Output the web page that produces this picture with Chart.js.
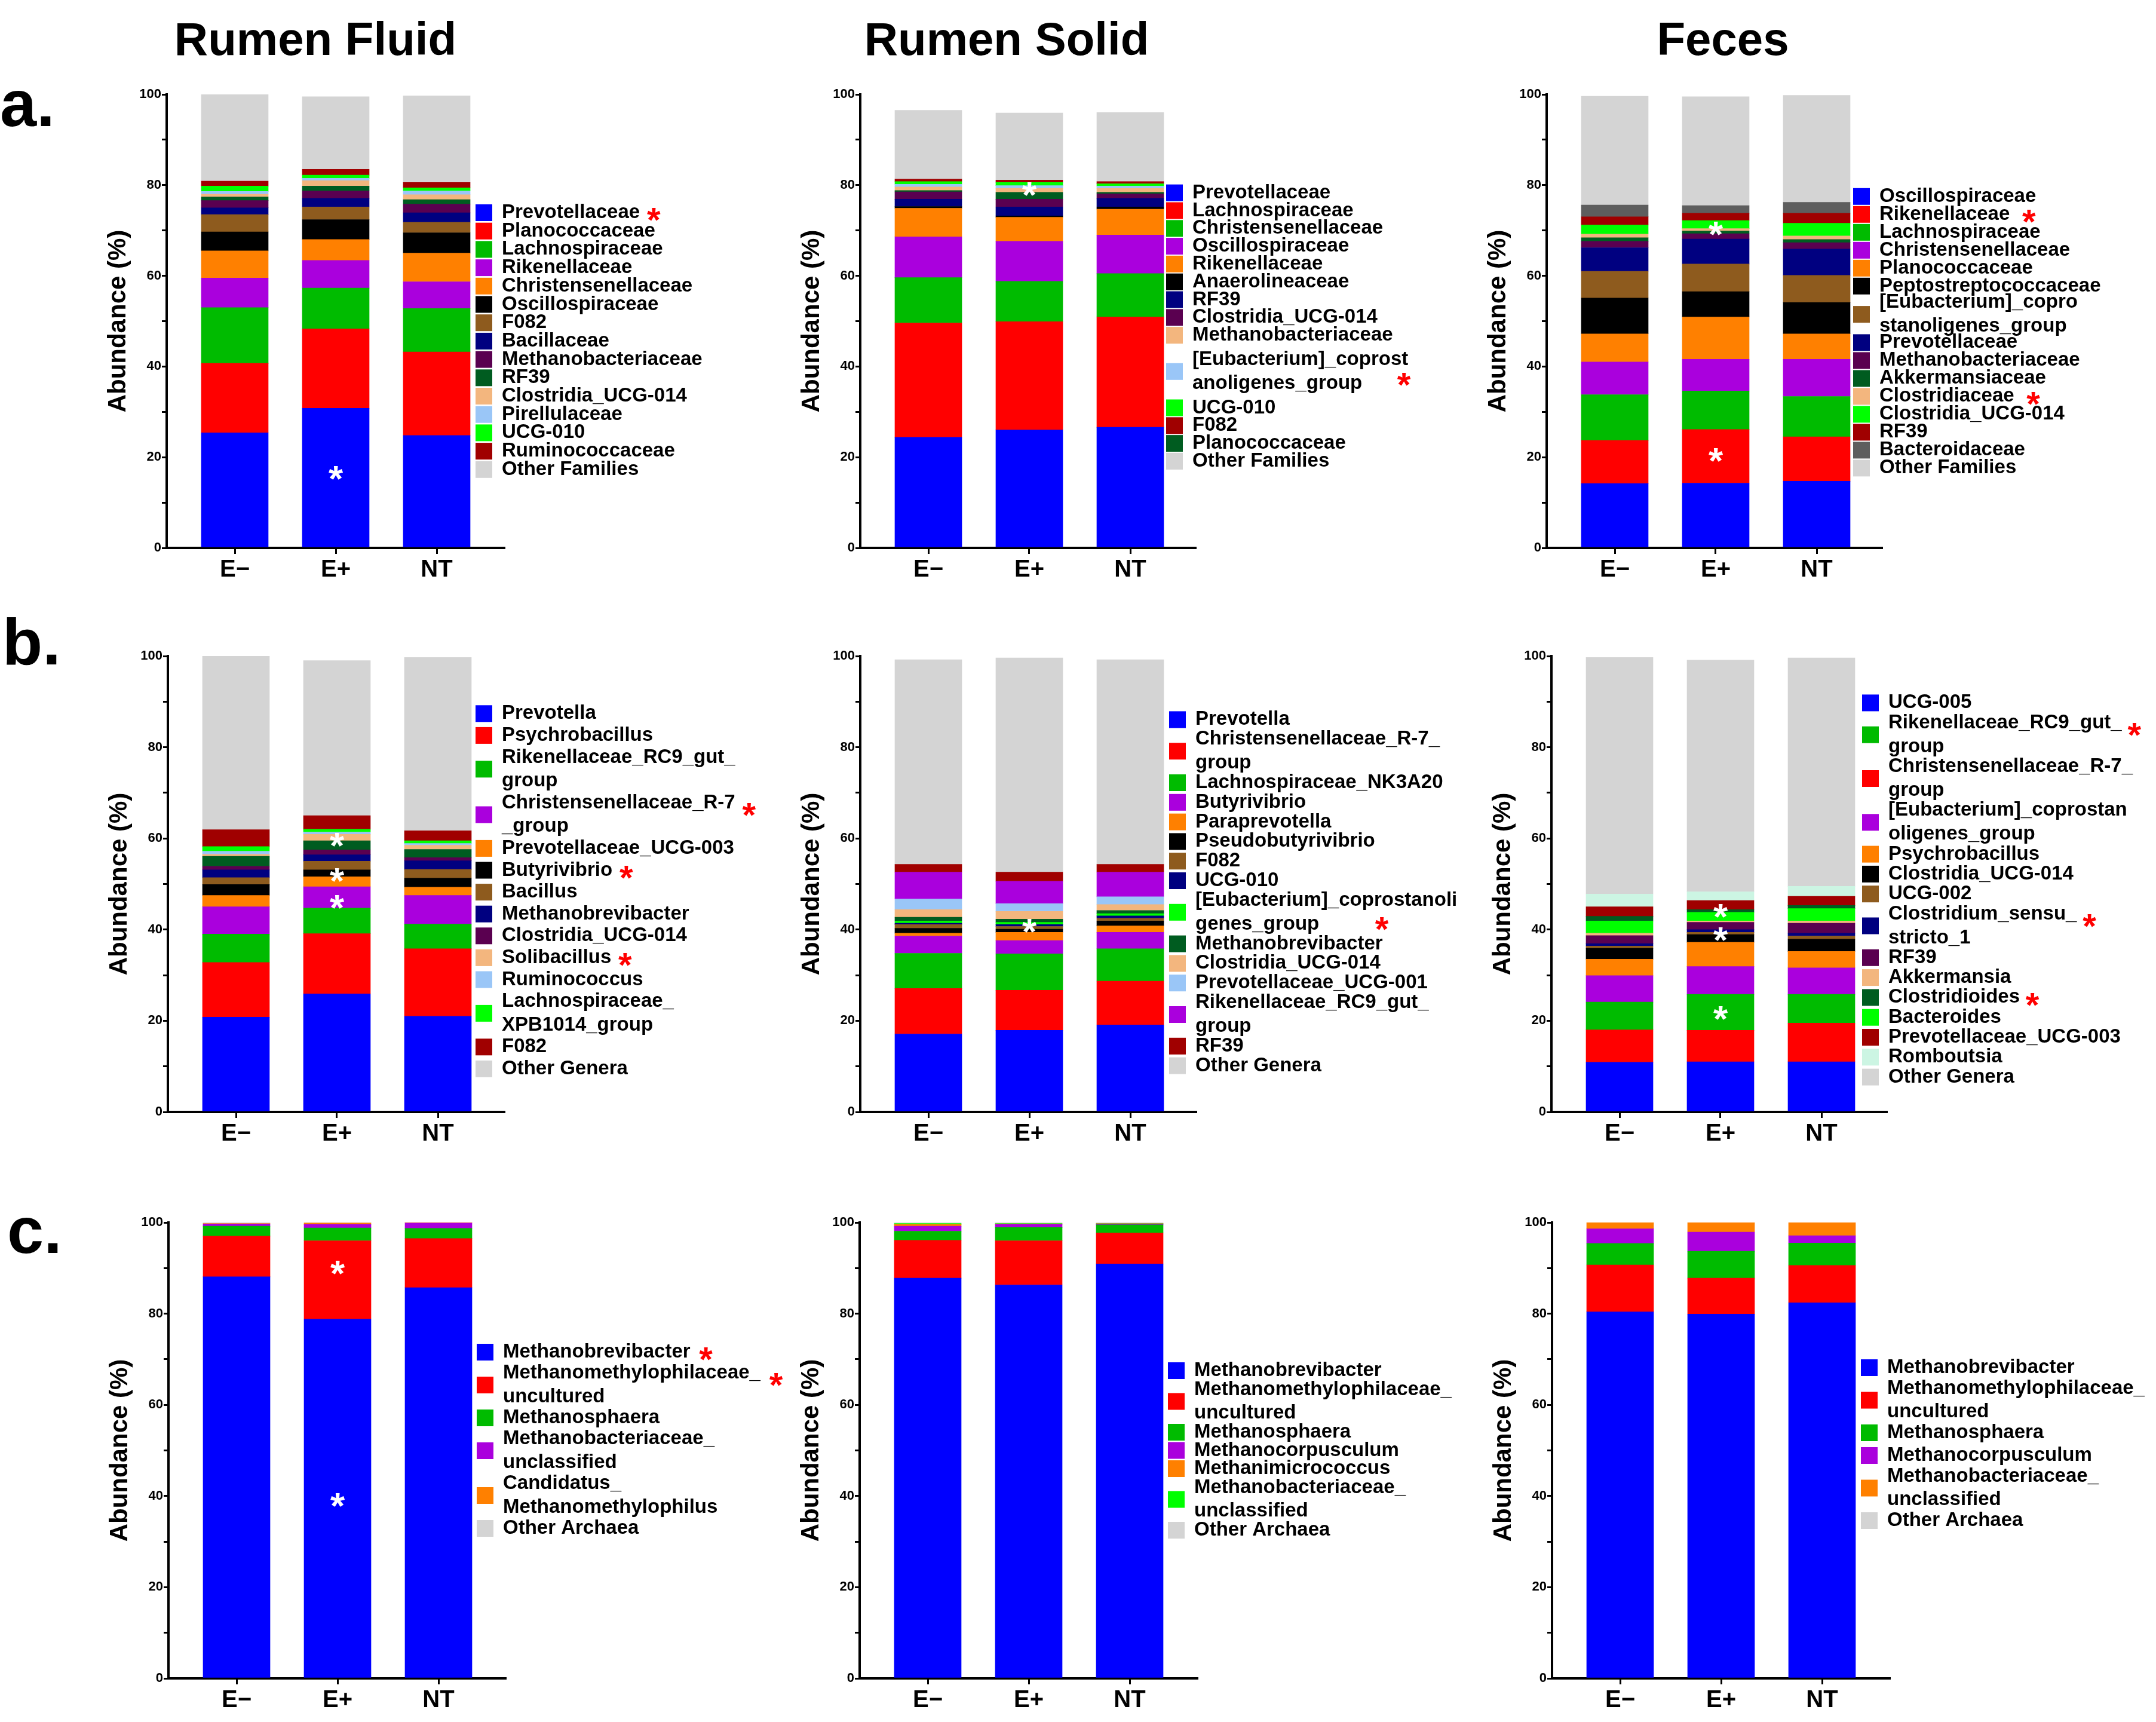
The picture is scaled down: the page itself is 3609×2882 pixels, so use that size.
<!DOCTYPE html>
<html lang="en">
<head>
  <meta charset="utf-8">
  <title>Relative abundance - Rumen Fluid, Rumen Solid, Feces</title>
  <script src="https://cdn.jsdelivr.net/npm/chart.js@4.4.1/dist/chart.umd.min.js"></script>
  <style>
    body { margin: 0; background: #fff; }
    #fig {
      position: relative; width: 3609px; height: 2882px; overflow: hidden;
      background: #fff; color: #000;
      font-family: 'Liberation Sans', Arial, sans-serif; font-weight: bold;
    }
    .ttl { position: absolute; font-size: 78px; line-height: 78px; white-space: nowrap; transform: translateX(-50%); }
    .let { position: absolute; font-size: 110px; line-height: 110px; }
    canvas { position: absolute; }
  </style>
</head>
<body>
<div id="fig">
  <div class="ttl" style="left:528px;top:26px">Rumen Fluid</div>
  <div class="ttl" style="left:1685px;top:26px">Rumen Solid</div>
  <div class="ttl" style="left:2884px;top:26px">Feces</div>
  <div class="let" style="left:0px;top:118px">a.</div>
  <div class="let" style="left:4px;top:1019px">b.</div>
  <div class="let" style="left:12px;top:2004px">c.</div>
</div>

<script>
  // ---- data ----
  var groups = ['E\u2212', 'E+', 'NT'];

  // a. Rumen Fluid, families
  var fluidFamNames = ['Prevotellaceae', 'Planococcaceae', 'Lachnospiraceae', 'Rikenellaceae', 'Christensenellaceae',
    'Oscillospiraceae', 'F082', 'Bacillaceae', 'Methanobacteriaceae', 'RF39', 'Clostridia_UCG-014',
    'Pirellulaceae', 'UCG-010', 'Ruminococcaceae', 'Other Families'];
  var fluidFamEneg = [25.4, 15.3, 12.3, 6.5, 6.0, 4.2, 3.8, 1.5, 1.6, 0.8, 0.6, 0.6, 1.2, 1.1, 19.1];
  var fluidFamEpos = [30.8, 17.5, 9.0, 6.1, 4.6, 4.4, 2.8, 1.9, 1.6, 1.1, 1.2, 0.5, 0.7, 1.3, 16.0];
  var fluidFamNT = [24.8, 18.4, 9.6, 5.9, 6.3, 4.5, 2.3, 2.1, 1.9, 1.0, 1.1, 0.8, 0.7, 1.2, 19.1];
  var fluidFamStars = ['Prevotellaceae'];
  var fluidFamMarks = [[1, 17.1]];

  // a. Rumen Solid, families (stack order; Planococcaceae listed last in the legend)
  var solidFamNames = ['Prevotellaceae', 'Lachnospiraceae', 'Christensenellaceae', 'Oscillospiraceae', 'Rikenellaceae',
    'Anaerolineaceae', 'RF39', 'Clostridia_UCG-014', 'Planococcaceae', 'Methanobacteriaceae',
    '[Eubacterium]_coprost\nanoligenes_group', 'UCG-010', 'F082', 'Other Families'];
  var solidFamLegend = [0, 1, 2, 3, 4, 5, 6, 7, 9, 10, 11, 12, 8, 13];
  var solidFamEneg = [24.4, 25.2, 10.0, 9.0, 6.3, 0.4, 1.6, 1.6, 0.3, 0.8, 0.6, 0.6, 0.5, 15.2];
  var solidFamEpos = [26.0, 23.9, 8.9, 8.8, 5.3, 0.3, 2.0, 1.7, 1.5, 0.9, 0.6, 0.7, 0.5, 14.8];
  var solidFamNT = [26.6, 24.3, 9.6, 8.5, 5.7, 0.5, 1.9, 1.0, 0.3, 0.9, 0.5, 0.5, 0.5, 15.2];
  var solidFamStars = ['[Eubacterium]_coprost\nanoligenes_group'];
  var solidFamMarks = [[1, 79.7]];

  // a. Feces, families
  var fecesFamNames = ['Oscillospiraceae', 'Rikenellaceae', 'Lachnospiraceae', 'Christensenellaceae', 'Planococcaceae',
    'Peptostreptococcaceae', '[Eubacterium]_copro\nstanoligenes_group', 'Prevotellaceae', 'Methanobacteriaceae',
    'Akkermansiaceae', 'Clostridiaceae', 'Clostridia_UCG-014', 'RF39', 'Bacteroidaceae', 'Other Families'];
  var fecesFamEneg = [14.2, 9.5, 10.1, 7.2, 6.2, 7.9, 5.9, 5.2, 1.4, 0.8, 0.8, 2.0, 1.8, 2.6, 24.0];
  var fecesFamEpos = [14.3, 11.8, 8.5, 7.0, 9.3, 5.6, 6.1, 5.5, 1.2, 0.6, 0.5, 1.8, 1.6, 1.7, 24.0];
  var fecesFamNT = [14.7, 9.8, 8.9, 8.2, 5.6, 6.9, 6.0, 5.8, 1.4, 0.7, 0.8, 2.8, 2.2, 2.4, 23.6];
  var fecesFamStars = ['Rikenellaceae', 'Clostridiaceae'];
  var fecesFamMarks = [[1, 71.0], [1, 21.0]];

  // b. Rumen Fluid, genera (one dark green band has no legend entry)
  var fluidGenNames = ['Prevotella', 'Psychrobacillus', 'Rikenellaceae_RC9_gut_\ngroup', 'Christensenellaceae_R-7\n_group',
    'Prevotellaceae_UCG-003', 'Butyrivibrio', 'Bacillus', 'Methanobrevibacter', 'Clostridia_UCG-014', '',
    'Solibacillus', 'Ruminococcus', 'Lachnospiraceae_\nXPB1014_group', 'F082', 'Other Genera'];
  var fluidGenEneg = [20.8, 12.0, 6.2, 6.0, 2.5, 2.4, 1.5, 1.7, 0.8, 2.2, 0.4, 0.7, 1.0, 3.7, 38.1];
  var fluidGenEpos = [25.9, 13.2, 5.6, 4.7, 2.2, 1.5, 1.9, 1.4, 1.1, 2.0, 1.4, 0.5, 0.6, 3.0, 34.0];
  var fluidGenNT = [21.0, 14.8, 5.4, 6.3, 1.8, 2.0, 1.9, 1.9, 0.7, 1.8, 0.9, 0.4, 0.6, 2.2, 38.0];
  var fluidGenStars = ['Christensenellaceae_R-7\n_group', 'Butyrivibrio', 'Solibacillus'];
  var fluidGenMarks = [[1, 60.2], [1, 52.5], [1, 46.6]];

  // b. Rumen Solid, genera
  var solidGenNames = ['Prevotella', 'Christensenellaceae_R-7_\ngroup', 'Lachnospiraceae_NK3A20', 'Butyrivibrio',
    'Paraprevotella', 'Pseudobutyrivibrio', 'F082', 'UCG-010', '[Eubacterium]_coprostanoli\ngenes_group',
    'Methanobrevibacter', 'Clostridia_UCG-014', 'Prevotellaceae_UCG-001', 'Rikenellaceae_RC9_gut_\ngroup',
    'RF39', 'Other Genera'];
  var solidGenEneg = [17.1, 10.0, 7.7, 3.8, 0.6, 1.1, 0.8, 0.3, 0.5, 0.8, 1.7, 2.3, 5.9, 1.7, 44.9];
  var solidGenEpos = [17.9, 8.8, 8.0, 2.9, 1.8, 0.7, 0.6, 0.4, 0.5, 0.7, 1.7, 1.7, 4.9, 2.0, 47.0];
  var solidGenNT = [19.1, 9.6, 7.1, 3.6, 1.4, 1.1, 0.6, 0.5, 0.5, 0.7, 1.3, 1.7, 5.4, 1.7, 44.9];
  var solidGenStars = ['[Eubacterium]_coprostanoli\ngenes_group'];
  var solidGenMarks = [[1, 41.4]];

  // b. Feces, genera (stack order differs a little from the legend)
  var fecesGenNames = ['UCG-005', 'Christensenellaceae_R-7_\ngroup', 'Rikenellaceae_RC9_gut_\ngroup',
    '[Eubacterium]_coprostan\noligenes_group', 'Psychrobacillus', 'Clostridia_UCG-014', 'UCG-002',
    'Clostridium_sensu_\nstricto_1', 'RF39', 'Akkermansia', 'Bacteroides', 'Clostridioides',
    'Prevotellaceae_UCG-003', 'Romboutsia', 'Other Genera'];
  var fecesGenLegend = [0, 2, 1, 3, 4, 5, 6, 7, 8, 9, 11, 10, 12, 13, 14];
  var fecesGenEneg = [10.9, 7.1, 6.1, 5.8, 3.6, 2.4, 0.5, 0.5, 1.8, 0.5, 2.7, 1.0, 2.1, 2.8, 51.9];
  var fecesGenEpos = [11.0, 6.9, 7.9, 6.1, 5.3, 1.7, 0.5, 0.6, 1.6, 0.3, 1.9, 0.6, 2.0, 1.9, 50.8];
  var fecesGenNT = [11.0, 8.5, 6.3, 5.8, 3.6, 2.7, 0.7, 0.6, 2.2, 0.5, 2.7, 0.7, 2.0, 2.2, 50.1];
  var fecesGenStars = ['Rikenellaceae_RC9_gut_\ngroup', 'Clostridium_sensu_\nstricto_1', 'Clostridioides'];
  var fecesGenMarks = [[1, 44.7], [1, 39.6], [1, 22.3]];

  // c. Rumen Fluid, archaea
  var fluidArcNames = ['Methanobrevibacter', 'Methanomethylophilaceae_\nuncultured', 'Methanosphaera',
    'Methanobacteriaceae_\nunclassified', 'Candidatus_\nMethanomethylophilus', 'Other Archaea'];
  var fluidArcEneg = [88.1, 8.9, 2.2, 0.5, 0.1, 0.2];
  var fluidArcEpos = [78.8, 17.2, 2.8, 0.8, 0.3, 0.1];
  var fluidArcNT = [85.7, 10.8, 2.2, 1.2, 0.05, 0.05];
  var fluidArcStars = ['Methanobrevibacter', 'Methanomethylophilaceae_\nuncultured'];
  var fluidArcMarks = [[1, 90.6], [1, 39.7]];

  // c. Rumen Solid, archaea
  var solidArcNames = ['Methanobrevibacter', 'Methanomethylophilaceae_\nuncultured', 'Methanosphaera',
    'Methanocorpusculum', 'Methanimicrococcus', 'Methanobacteriaceae_\nunclassified', 'Other Archaea'];
  var solidArcEneg = [87.8, 8.3, 2.0, 1.1, 0.4, 0.2, 0.2];
  var solidArcEpos = [86.3, 9.7, 2.9, 0.7, 0.1, 0.1, 0.2];
  var solidArcNT = [90.9, 6.8, 1.8, 0.2, 0.05, 0.05, 0.2];

  // c. Feces, archaea
  var fecesArcNames = ['Methanobrevibacter', 'Methanomethylophilaceae_\nuncultured', 'Methanosphaera',
    'Methanocorpusculum', 'Methanobacteriaceae_\nunclassified', 'Other Archaea'];
  var fecesArcEneg = [80.4, 10.3, 4.7, 3.2, 1.4, 0.0];
  var fecesArcEpos = [79.9, 7.9, 5.9, 4.2, 2.1, 0.0];
  var fecesArcNT = [82.4, 8.2, 4.9, 1.6, 2.9, 0.0];

  // ---- colours ----
  var palette = {
    blue: '#0000ff', red: '#ff0000', green: '#00bb00', purple: '#aa00dd', orange: '#ff8000',
    black: '#000000', brown: '#8e5b1e', navy: '#000080', plum: '#5a0050', dkgreen: '#005c20',
    peach: '#f3b67e', ltblue: '#9ac6f7', lime: '#00ff00', dkred: '#a00000', dkgray: '#5e5e5e',
    gray: '#d4d4d4', mint: '#ccf5e3'
  };
  var famColors = ['blue', 'red', 'green', 'purple', 'orange', 'black', 'brown', 'navy', 'plum', 'dkgreen',
    'peach', 'ltblue', 'lime', 'dkred', 'gray'];
  var solidFamColors = ['blue', 'red', 'green', 'purple', 'orange', 'black', 'navy', 'plum', 'dkgreen',
    'peach', 'ltblue', 'lime', 'dkred', 'gray'];
  var fecesFamColors = ['blue', 'red', 'green', 'purple', 'orange', 'black', 'brown', 'navy', 'plum', 'dkgreen',
    'peach', 'lime', 'dkred', 'dkgray', 'gray'];
  var solidGenColors = ['blue', 'red', 'green', 'purple', 'orange', 'black', 'brown', 'navy', 'lime', 'dkgreen',
    'peach', 'ltblue', 'purple', 'dkred', 'gray'];
  var fecesGenColors = ['blue', 'red', 'green', 'purple', 'orange', 'black', 'brown', 'navy', 'plum', 'peach',
    'lime', 'dkgreen', 'dkred', 'mint', 'gray'];
  var arc6Colors = ['blue', 'red', 'green', 'purple', 'orange', 'gray'];
  var arc7Colors = ['blue', 'red', 'green', 'purple', 'orange', 'lime', 'gray'];

  var FAMILY = "'Liberation Sans', Arial, sans-serif";
  Chart.defaults.font.family = FAMILY;
  Chart.defaults.color = '#000';

  // ---- panels: plot box (ax, ay = y100, ab = y0, ar) and legend layout ----
  var panels = [
    { names: fluidFamNames, colors: famColors, values: [fluidFamEneg, fluidFamEpos, fluidFamNT],
      stars: fluidFamStars, marks: fluidFamMarks,
      ax: 279, ay: 158, ab: 917, ar: 844, legend: { x: 796, y: 356, line: 30.7, inner: 40, adj: 30.7, gap: 23 } },
    { names: solidFamNames, colors: solidFamColors, values: [solidFamEneg, solidFamEpos, solidFamNT],
      order: solidFamLegend, stars: solidFamStars, marks: solidFamMarks,
      ax: 1440, ay: 158, ab: 917, ar: 2001, legend: { x: 1952, y: 322.7, line: 29.8, inner: 40.4, adj: 40.5, gap: 23, farStar: [354, 0.75] } },
    { names: fecesFamNames, colors: fecesFamColors, values: [fecesFamEneg, fecesFamEpos, fecesFamNT],
      stars: fecesFamStars, marks: fecesFamMarks,
      ax: 2589, ay: 158, ab: 917, ar: 3150, legend: { x: 3102, y: 328.8, line: 30, inner: 39.8, adj: 27.4, gap: 32 } },

    { names: fluidGenNames, colors: famColors, values: [fluidGenEneg, fluidGenEpos, fluidGenNT],
      stars: fluidGenStars, marks: fluidGenMarks,
      ax: 281, ay: 1098, ab: 1861, ar: 844, legend: { x: 796, y: 1194.3, line: 36.6, inner: 39.6, adj: 36.6, gap: 23 } },
    { names: solidGenNames, colors: solidGenColors, values: [solidGenEneg, solidGenEpos, solidGenNT],
      stars: solidGenStars, marks: solidGenMarks,
      ax: 1440, ay: 1098, ab: 1861, ar: 2002, legend: { x: 1957, y: 1204.4, line: 32.8, inner: 40, adj: 32.8, gap: 23, farStar: [312, 0.9] } },
    { names: fecesGenNames, colors: fecesGenColors, values: [fecesGenEneg, fecesGenEpos, fecesGenNT],
      order: fecesGenLegend, stars: fecesGenStars, marks: fecesGenMarks,
      ax: 2597, ay: 1098, ab: 1861, ar: 3158, legend: { x: 3117, y: 1176.4, line: 33.3, inner: 40, adj: 33.3, gap: 21 } },

    { names: fluidArcNames, colors: arc6Colors, values: [fluidArcEneg, fluidArcEpos, fluidArcNT],
      stars: fluidArcStars, marks: fluidArcMarks,
      ax: 282, ay: 2046, ab: 2809, ar: 846, legend: { x: 798, y: 2263, line: 36, inner: 40, adj: 35, gap: 26 } },
    { names: solidArcNames, colors: arc7Colors, values: [solidArcEneg, solidArcEpos, solidArcNT],
      stars: [], marks: [],
      ax: 1439, ay: 2046, ab: 2809, ar: 2004, legend: { x: 1955, y: 2294, line: 30.5, inner: 39, adj: 32, gap: 23 } },
    { names: fecesArcNames, colors: arc6Colors, values: [fecesArcEneg, fecesArcEpos, fecesArcNT],
      stars: [], marks: [],
      ax: 2598, ay: 2046, ab: 2809, ar: 3163, legend: { x: 3115, y: 2289, line: 38, inner: 39, adj: 35, gap: 23 } }
  ];

  function starGlyph(ctx, x, cy, size, color) {
    ctx.save();
    ctx.font = 'bold ' + size + 'px ' + FAMILY;
    ctx.fillStyle = color;
    ctx.textAlign = 'center';
    ctx.textBaseline = 'alphabetic';
    ctx.fillText('*', x, cy + 0.56 * size);
    ctx.restore();
  }

  function makePlugin(p, left, top) {
    return {
      id: 'figExtras',
      afterDatasetsDraw: function (chart) {
        // white asterisks on the bars
        p.marks.forEach(function (m) {
          starGlyph(chart.ctx, chart.scales.x.getPixelForValue(m[0] + 1), chart.scales.y.getPixelForValue(m[1]), 62, '#fff');
        });
      },
      afterDraw: function (chart) {
        var ctx = chart.ctx, L = p.legend;
        var order = p.order || p.names.map(function (_, i) { return i; });
        var bx = L.x - left, tx = bx + 44;
        var y = L.y - top, prevMulti = false, first = true;
        ctx.save();
        ctx.font = 'bold 33px ' + FAMILY;
        ctx.textAlign = 'left';
        ctx.textBaseline = 'middle';
        order.forEach(function (i) {
          var name = p.names[i];
          if (!name) return;
          var lines = name.split('\n');
          var multi = lines.length > 1;
          if (!first) y += (multi || prevMulti) ? L.adj : L.line;
          first = false;
          var y1 = y;
          y += (lines.length - 1) * L.inner;
          var cy = (y1 + y) / 2;
          ctx.fillStyle = palette[p.colors[i]];
          ctx.fillRect(bx, cy - 14, 28, 28);
          ctx.fillStyle = '#000';
          lines.forEach(function (t, j) { ctx.fillText(t, tx, y1 + j * L.inner); });
          if (p.stars.indexOf(name) >= 0) {
            if (multi && L.farStar) {
              starGlyph(ctx, tx + L.farStar[0], y1 + L.farStar[1] * L.inner, 58, '#ff0000');
            } else {
              starGlyph(ctx, tx + ctx.measureText(lines[0]).width + L.gap, y1 + (multi ? 8 : 0), 58, '#ff0000');
            }
          }
          prevMulti = multi;
        });
        ctx.restore();
      }
    };
  }

  var fig = document.getElementById('fig');
  var UNIT = 169;          // pixels between bar centres
  var FIRST = 114;         // first bar centre from the y axis

  panels.forEach(function (p) {
    var W = 1200, left = p.ax - 140, top = p.ay - 30;
    var H = (p.ab - p.ay) + 30 + 90;
    var cv = document.createElement('canvas');
    cv.width = W; cv.height = H;
    cv.style.left = left + 'px'; cv.style.top = top + 'px';
    cv.style.width = W + 'px'; cv.style.height = H + 'px';
    fig.appendChild(cv);

    var xmin = 1 - FIRST / UNIT;
    var xmax = xmin + (p.ar - p.ax) / UNIT;

    var datasets = p.names.map(function (n, i) {
      return {
        label: n || 'unlisted',
        data: p.values.map(function (vals, g) { return { x: g + 1, y: vals[i] }; }),
        backgroundColor: palette[p.colors[i]],
        borderWidth: 0,
        barThickness: 112
      };
    });

    var tickFont = { size: 22, weight: 'bold' };
    new Chart(cv.getContext('2d'), {
      type: 'bar',
      data: { datasets: datasets },
      options: {
        responsive: false,
        animation: false,
        devicePixelRatio: 1,
        layout: { padding: { left: 34, top: 30, right: W - (p.ar - left), bottom: 10 } },
        plugins: { legend: { display: false }, tooltip: { enabled: false } },
        scales: {
          x: {
            type: 'linear', stacked: true, offset: false, min: xmin, max: xmax,
            afterBuildTicks: function (s) { s.ticks = [{ value: 1 }, { value: 2 }, { value: 3 }]; },
            afterFit: function (s) { s.height = 80; },
            ticks: {
              callback: function (v) { return groups[Math.round(v) - 1]; },
              font: { size: 40, weight: 'bold' }, color: '#000', padding: 3, maxRotation: 0, autoSkip: false
            },
            grid: { display: true, offset: false, drawOnChartArea: false, drawTicks: true, tickLength: 10, color: '#000', lineWidth: 3 },
            border: { display: true, color: '#000', width: 4 }
          },
          y: {
            stacked: true, min: 0, max: 100,
            afterFit: function (s) { s.width = 106; },
            ticks: {
              stepSize: 10, autoSkip: false, padding: 1, color: '#000', font: tickFont,
              callback: function (v) { return v % 20 === 0 ? String(v) : ''; }
            },
            grid: { display: true, drawOnChartArea: false, drawTicks: true, tickLength: 8, color: '#000', lineWidth: 3 },
            border: { display: true, color: '#000', width: 4 },
            title: {
              display: true, text: 'Abundance (%)', color: '#000',
              font: { size: 42, weight: 'bold' }, padding: { top: 0, bottom: 0 }
            }
          }
        }
      },
      plugins: [makePlugin(p, left, top)]
    });
  });
</script>
</body>
</html>
